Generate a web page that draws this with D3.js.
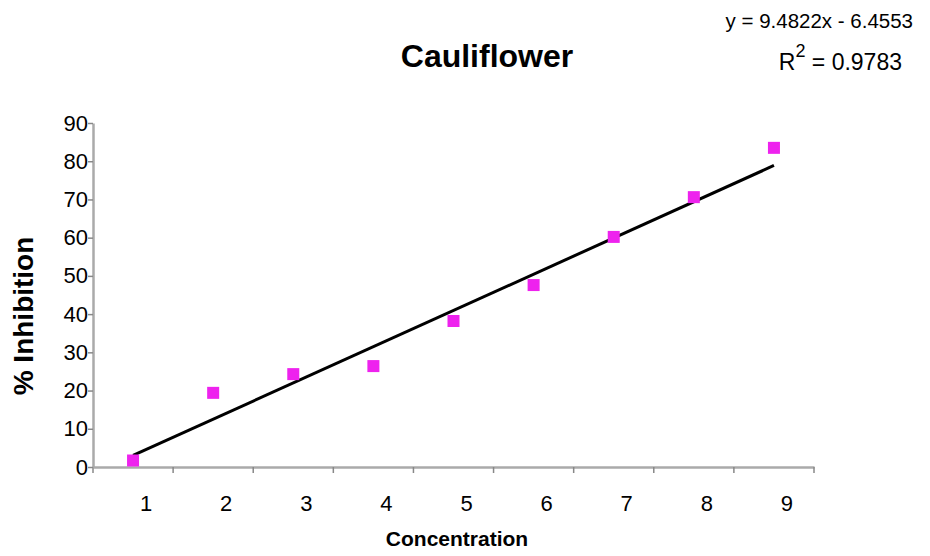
<!DOCTYPE html>
<html>
<head>
<meta charset="utf-8">
<script src="https://cdn.jsdelivr.net/npm/d3@7"></script>
<style>
  body { margin: 0; background: #fff; }
  text { font-family: "Liberation Sans", Arial, sans-serif; fill: #000; }
  .axis path { stroke: #aaa; stroke-width: 2.5; }
  .axis line { stroke: #888; stroke-width: 1.5; }
  .axis text { font-size: 22px; font-family: "Liberation Sans", Arial, sans-serif; }
</style>
</head>
<body>
<div class="container"></div>
<script>
var concentration = [1, 2, 3, 4, 5, 6, 7, 8, 9];
var inhibition = [1.7, 19.4, 24.3, 26.4, 38.2, 47.6, 60.2, 70.6, 83.5];
var yTicks = [0, 10, 20, 30, 40, 50, 60, 70, 80, 90];
var trendSlope = 9.4822, trendIntercept = -6.4553;
var eqLabel = "y = 9.4822x - 6.4553";
var r2Value = "0.9783";

var margin = {top: 123, right: 116, bottom: 89, left: 93},
  width = 930 - margin.left - margin.right,
  height = 556 - margin.top - margin.bottom;

var root = d3.select(".container")
  .append("svg")
    .attr("width", 930)
    .attr("height", 556);

var svg = root.append("g")
  .attr("transform", "translate(" + margin.left + "," + margin.top + ")");

var x = d3.scaleBand()
  .domain(concentration)
  .range([0, width])
  .padding(0);

var y = d3.scaleLinear()
  .domain([0, 90])
  .range([height, 0]);

function cx(d) { return x(d) + x.bandwidth() / 2; }

// x axis: ticks on category boundaries, labels in the middle
var xAxis = svg.append("g")
  .attr("class", "axis")
  .attr("transform", "translate(0," + height + ")")
  .call(d3.axisBottom(x).tickSize(0).tickPadding(28));
xAxis.selectAll(".tick text").attr("dx", "13px");
xAxis.selectAll(".tick line").remove();

xAxis.selectAll(".bound")
  .data(concentration.concat([null]))
  .enter()
  .append("line")
    .attr("class", "bound")
    .attr("x1", function(d, i) { return i < concentration.length ? x(d) : width; })
    .attr("x2", function(d, i) { return i < concentration.length ? x(d) : width; })
    .attr("y1", 0)
    .attr("y2", 6);

svg.append("g")
  .attr("class", "axis")
  .call(d3.axisLeft(y).tickValues(yTicks).tickSize(5).tickSizeOuter(0).tickPadding(0));

// trendline
svg.append("path")
  .datum([concentration[0], concentration[concentration.length - 1]])
  .attr("fill", "none")
  .attr("stroke", "#000")
  .attr("stroke-width", 3)
  .attr("d", d3.line()
    .x(function(d) { return cx(d); })
    .y(function(d) { return y(trendSlope * d + trendIntercept); }));

// markers
svg.selectAll(".pt")
  .data(concentration)
  .enter()
  .append("rect")
    .attr("class", "pt")
    .attr("x", function(d) { return cx(d) - 6; })
    .attr("y", function(d, i) { return y(inhibition[i]) - 6; })
    .attr("width", 12)
    .attr("height", 12)
    .attr("fill", "#ee22ee");

// titles
root.append("text")
  .attr("x", 487)
  .attr("y", 67)
  .attr("text-anchor", "middle")
  .style("font-size", "32px")
  .style("font-weight", "bold")
  .text("Cauliflower");

root.append("text")
  .attr("x", 913)
  .attr("y", 28)
  .attr("text-anchor", "end")
  .style("font-size", "20.5px")
  .text(eqLabel);

var r2 = root.append("text")
  .attr("x", 902)
  .attr("y", 70)
  .attr("text-anchor", "end")
  .style("font-size", "23px");
r2.append("tspan").text("R");
r2.append("tspan").attr("dy", "-13").style("font-size", "18px").text("2");
r2.append("tspan").attr("dy", "13").text(" = " + r2Value);

root.append("text")
  .attr("x", 457)
  .attr("y", 546)
  .attr("text-anchor", "middle")
  .style("font-size", "21px")
  .style("font-weight", "bold")
  .text("Concentration");

root.append("text")
  .attr("transform", "translate(33,316) rotate(-90)")
  .attr("text-anchor", "middle")
  .style("font-size", "28px")
  .style("font-weight", "bold")
  .text("% Inhibition");
</script>
</body>
</html>
